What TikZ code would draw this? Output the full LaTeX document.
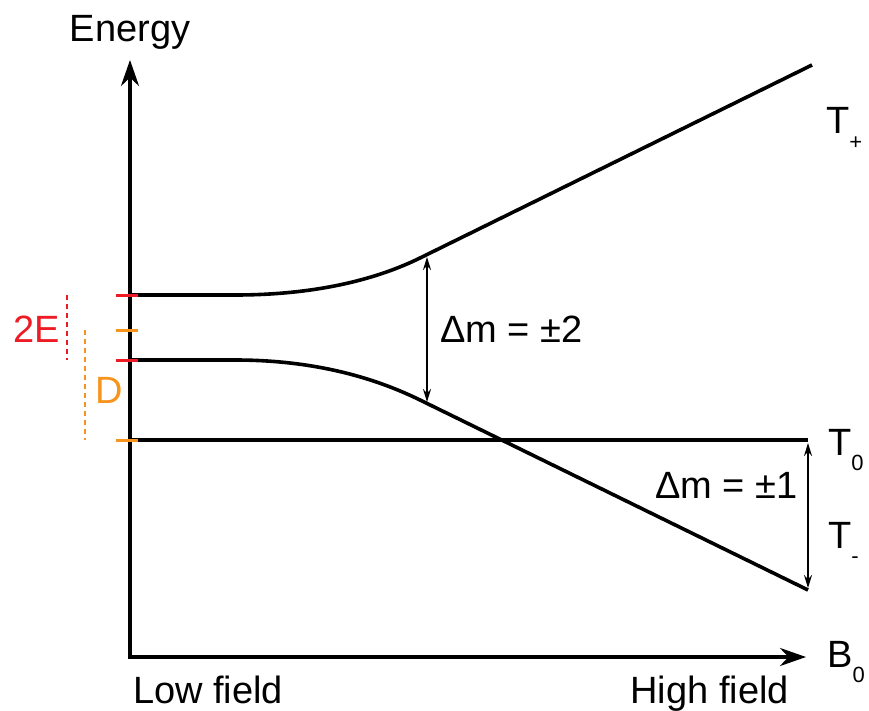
\documentclass[tikz,border=0pt]{standalone}
\usepackage{fontspec}
\setmainfont{Liberation Sans}
\usetikzlibrary{arrows.meta}
\definecolor{levelred}{RGB}{237,28,36}
\definecolor{levelorange}{RGB}{247,148,29}
\newcommand\lowsub[1]{\raisebox{-0.42em}{\fontsize{22}{22}\selectfont #1}}
\tikzset{
  level/.style={line width=3.6pt},
  axisline/.style={line width=3.6pt, -{Stealth[length=26pt,width=18pt]}},
  gap/.style={line width=1.8pt, <->},
  tick/.style={line width=3pt},
  label/.style={inner sep=0pt, anchor=base west},
}
\begin{document}
\begin{tikzpicture}[x=1pt, y=-1pt, >={Stealth[length=13pt,width=8pt]},
  font=\fontsize{38}{40}\selectfont]
\useasboundingbox (0,0) rectangle (869,711);
% axes
\coordinate (o) at (130,657);
\coordinate (ytip) at (130,60);
\coordinate (xtip) at (806,657);
\draw[axisline] ([yshift=1.8pt]o) -- (ytip);
\draw[axisline] ([xshift=-1.8pt]o) -- (xtip);
% the three levels
\draw[level] (130,295) -- (235,295) .. controls (320,295) and (380,277.7) .. (420,258) -- (812,65);
\draw[level] (130,360) -- (235,360) .. controls (320,360) and (380,380.4) .. (420,400) -- (808,590);
\draw[level] (130,440) -- (808,440);
% zero field ticks
\draw[tick, levelred] (116,295) -- (138,295);
\draw[tick, levelred] (116,360) -- (138,360);
\draw[tick, levelorange] (116,330) -- (138,330);
\draw[tick, levelorange] (116,440) -- (138,440);
\draw[levelred, line width=2.4pt, dash pattern=on 5pt off 4pt] (67,295) -- (67,360);
\draw[levelorange, line width=2.4pt, dash pattern=on 5pt off 4pt] (85,330) -- (85,440);
% transitions
\coordinate (dm2top) at (427,257);
\coordinate (dm2bot) at (427,402);
\coordinate (dm1top) at (808,443);
\coordinate (dm1bot) at (808,588);
\draw[gap] (dm2top) -- (dm2bot);
\draw[gap] (dm1top) -- (dm1bot);
% labels
\node[inner sep=0pt, anchor=base] (energy) at (130,42) {Energy};
\node[label] (bzero) at (827,667) {B\lowsub{0}};
\node[label] (low) at (133,703) {Low field};
\node[inner sep=0pt, anchor=base east] (high) at (789,703) {High field};
\node[label] (tplus) at (826,134) {T\lowsub{+}};
\node[label] (tzero) at (828,455) {T\lowsub{0}};
\node[label] (tminus) at (828,548) {T\lowsub{-}};
\node[label] (dm2) at (440,342) {Δm = ±2};
\node[label] (dm1) at (655,498) {Δm = ±1};
\node[label, text=levelred] (twoE) at (13,342) {2E};
\node[label, text=levelorange] (dee) at (95,403) {D};
\end{tikzpicture}
\end{document}
